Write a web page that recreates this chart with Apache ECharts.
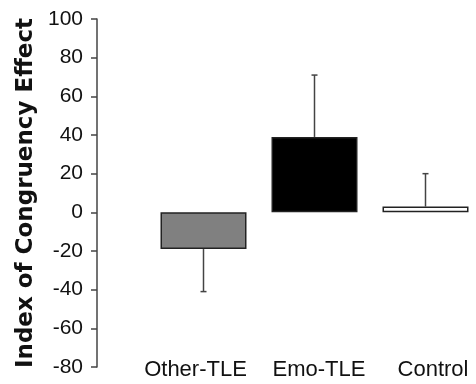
<!DOCTYPE html>
<html>
<head>
<meta charset="utf-8">
<script src="https://cdn.jsdelivr.net/npm/echarts@6/dist/echarts.min.js"></script>
<style>
  html, body { margin: 0; padding: 0; background: #fff; }
  #chart { width: 476px; height: 384px; }
</style>
</head>
<body>
<div id="chart"></div>
<script>
const groups = ['Other-TLE', 'Emo-TLE', 'Control'];
const means = [-19, 39, 3];
const errorEnds = [-41, 71, 20];
const barColors = ['#808080', '#000000', '#ffffff'];
const yTicks = [-80, -60, -40, -20, 0, 20, 40, 60, 80, 100];

// labels in the original are not exactly centred under the bars
const labelPads = [[0, 16, 0, 0], [0, 0, 0, 9], [0, 0, 0, 15]];

const chart = echarts.init(document.getElementById('chart'));

// error whiskers: one-sided, from bar end to errorEnds
function renderError(params, api) {
  const top = api.coord([api.value(0), api.value(1)]);
  const end = api.coord([api.value(0), api.value(2)]);
  const cap = 3;
  const style = { stroke: '#444', lineWidth: 1.5 };
  return {
    type: 'group',
    children: [
      { type: 'line', shape: { x1: top[0], y1: top[1], x2: end[0], y2: end[1] }, style: style },
      { type: 'line', shape: { x1: end[0] - cap, y1: end[1], x2: end[0] + cap, y2: end[1] }, style: style }
    ]
  };
}

const catLabel = {
  color: '#111',
  fontFamily: 'Liberation Sans, Arial, sans-serif',
  fontSize: 22,
  verticalAlign: 'middle',
  lineHeight: 22
};

const option = {
  animation: false,
  grid: { left: 148, right: -5, top: 19, bottom: 17, outerBoundsMode: 'none', containLabel: false },
  xAxis: {
    type: 'category',
    data: groups.map((g, i) => ({
      value: g,
      textStyle: Object.assign({}, catLabel, { padding: labelPads[i] })
    })),
    axisLine: { show: false, onZero: false },
    axisTick: { show: false },
    axisLabel: Object.assign({ interval: 0, hideOverlap: false, margin: 3 }, catLabel)
  },
  yAxis: {
    type: 'value',
    min: yTicks[0],
    max: yTicks[yTicks.length - 1],
    interval: 20,
    offset: 51,
    name: 'Index of Congruency Effect',
    nameLocation: 'middle',
    nameGap: 57,
    nameTextStyle: {
      color: '#111',
      fontFamily: 'DejaVu Sans, Verdana, sans-serif',
      fontWeight: 'bold',
      fontSize: 23
    },
    axisLine: { show: true, lineStyle: { color: '#444', width: 1.5 } },
    axisTick: { show: true, inside: false, length: 6, lineStyle: { color: '#444', width: 1.5 } },
    axisLabel: {
      color: '#111',
      fontFamily: 'Liberation Sans, Arial, sans-serif',
      fontSize: 21,
      margin: 14
    },
    splitLine: { show: false }
  },
  series: [
    {
      type: 'bar',
      barWidth: 86,
      data: means.map((v, i) => ({
        value: v,
        itemStyle: { color: barColors[i], borderColor: '#222', borderWidth: 1.5 }
      }))
    },
    {
      type: 'custom',
      renderItem: renderError,
      data: groups.map((g, i) => [i, means[i], errorEnds[i]]),
      z: 1
    }
  ]
};

chart.setOption(option);
window.addEventListener('resize', function () {
  chart.resize();
});
</script>
</body>
</html>
